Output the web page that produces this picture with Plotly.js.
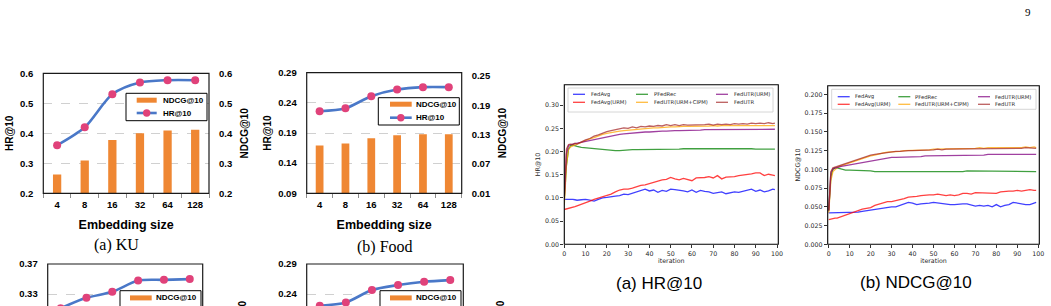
<!DOCTYPE html>
<html><head><meta charset="utf-8">
<script src="https://cdn.plot.ly/plotly-3.0.1.min.js"></script>
<style>html,body{margin:0;padding:0;background:#fff}#chart{width:1051px;height:306px}</style>
</head><body><div id="chart"></div>
<script>
// ---------- data ----------
const embeddingSizes = ['4','8','16','32','64','128'];
const kuHR = [0.360,0.420,0.530,0.569,0.577,0.577];
const kuNDCG = [0.263,0.309,0.378,0.400,0.409,0.412];
const foodHR = [0.226,0.231,0.251,0.262,0.266,0.266];
const foodNDCG = [0.108,0.112,0.123,0.129,0.131,0.131];
const cHR = [0.311,0.325,0.333,0.348,0.349,0.350];
const dHR = [0.2205,0.226,0.2467,0.255,0.2605,0.2633];

const methods = ['FedAvg','FedAvg(URM)','PFedRec','FedUTR(URM+CIPM)','FedUTR(URM)','FedUTR'];
const iterations = [0,1,2,3,4,5,6,8,10,12,14,16,18,20,22,24,26,28,30,32,34,36,38,40,42,44,46,48,50,52,54,56,58,60,62,64,66,68,70,72,74,76,78,80,82,84,86,88,90,92,94,96,98,99];

const hrFedAvg = [0.097,0.097,0.097,0.098,0.097,0.096,0.095,0.096,0.097,0.095,0.093,0.097,0.100,0.101,0.103,0.104,0.105,0.108,0.107,0.110,0.112,0.116,0.119,0.115,0.117,0.112,0.116,0.114,0.119,0.118,0.117,0.115,0.113,0.117,0.112,0.116,0.114,0.113,0.110,0.111,0.113,0.109,0.111,0.113,0.112,0.114,0.116,0.119,0.114,0.117,0.113,0.115,0.119,0.118];
const hrFedAvgURM = [0.075,0.076,0.077,0.079,0.080,0.081,0.083,0.086,0.090,0.093,0.097,0.100,0.103,0.106,0.108,0.113,0.117,0.119,0.119,0.121,0.124,0.127,0.128,0.131,0.133,0.137,0.139,0.140,0.144,0.141,0.139,0.142,0.140,0.137,0.143,0.143,0.144,0.146,0.143,0.148,0.141,0.145,0.145,0.146,0.148,0.149,0.151,0.152,0.154,0.154,0.148,0.151,0.149,0.148];
const hrPFedRec = [0.095,0.170,0.205,0.213,0.214,0.212,0.211,0.209,0.208,0.208,0.207,0.205,0.204,0.203,0.203,0.202,0.202,0.203,0.203,0.204,0.204,0.204,0.205,0.205,0.205,0.205,0.205,0.205,0.205,0.205,0.205,0.206,0.206,0.206,0.206,0.206,0.207,0.207,0.207,0.207,0.207,0.206,0.206,0.206,0.206,0.206,0.206,0.206,0.205,0.205,0.205,0.205,0.205,0.205];
const hrUTRCIPM = [0.085,0.170,0.205,0.210,0.212,0.214,0.216,0.220,0.224,0.227,0.230,0.234,0.237,0.239,0.241,0.243,0.244,0.245,0.246,0.247,0.248,0.249,0.249,0.250,0.251,0.251,0.252,0.253,0.253,0.253,0.254,0.254,0.254,0.254,0.255,0.255,0.255,0.255,0.256,0.255,0.256,0.256,0.256,0.256,0.256,0.256,0.256,0.256,0.257,0.256,0.257,0.256,0.257,0.256];
const hrUTRURM = [0.100,0.195,0.213,0.215,0.216,0.217,0.218,0.219,0.221,0.223,0.225,0.227,0.230,0.232,0.233,0.235,0.237,0.238,0.239,0.240,0.241,0.241,0.242,0.242,0.243,0.243,0.244,0.244,0.245,0.245,0.245,0.245,0.246,0.246,0.246,0.246,0.247,0.247,0.247,0.247,0.247,0.247,0.247,0.247,0.247,0.247,0.247,0.247,0.247,0.247,0.248,0.248,0.248,0.248];
const hrUTR = [0.100,0.205,0.215,0.216,0.215,0.218,0.216,0.221,0.225,0.228,0.233,0.236,0.240,0.243,0.245,0.247,0.249,0.251,0.250,0.253,0.251,0.254,0.253,0.255,0.254,0.256,0.255,0.258,0.256,0.258,0.256,0.258,0.257,0.257,0.258,0.257,0.258,0.259,0.257,0.259,0.258,0.259,0.258,0.260,0.259,0.260,0.259,0.261,0.260,0.261,0.260,0.262,0.260,0.261];

const ndFedAvg = [0.042,0.042,0.042,0.043,0.042,0.042,0.042,0.043,0.043,0.042,0.043,0.044,0.045,0.046,0.046,0.047,0.048,0.050,0.050,0.050,0.052,0.054,0.056,0.055,0.053,0.054,0.054,0.055,0.056,0.055,0.055,0.054,0.053,0.053,0.054,0.054,0.054,0.053,0.051,0.052,0.051,0.052,0.050,0.053,0.050,0.052,0.053,0.056,0.055,0.053,0.053,0.053,0.055,0.056];
const ndFedAvgURM = [0.033,0.034,0.034,0.035,0.035,0.036,0.037,0.039,0.042,0.044,0.045,0.047,0.048,0.049,0.052,0.054,0.056,0.057,0.057,0.058,0.060,0.061,0.063,0.063,0.064,0.065,0.066,0.066,0.066,0.067,0.066,0.065,0.066,0.065,0.066,0.068,0.068,0.067,0.069,0.069,0.068,0.068,0.069,0.068,0.070,0.071,0.071,0.071,0.072,0.071,0.072,0.073,0.072,0.072];
const ndPFedRec = [0.045,0.090,0.100,0.102,0.102,0.101,0.100,0.099,0.099,0.099,0.098,0.098,0.098,0.098,0.097,0.097,0.097,0.096,0.097,0.097,0.097,0.097,0.097,0.097,0.097,0.096,0.097,0.097,0.097,0.097,0.097,0.097,0.097,0.097,0.097,0.097,0.098,0.098,0.098,0.098,0.098,0.098,0.098,0.097,0.097,0.097,0.097,0.097,0.097,0.097,0.097,0.097,0.097,0.097];
const ndUTRCIPM = [0.042,0.085,0.097,0.100,0.102,0.104,0.105,0.106,0.108,0.110,0.112,0.114,0.116,0.118,0.119,0.121,0.122,0.123,0.123,0.124,0.124,0.125,0.125,0.125,0.125,0.126,0.126,0.126,0.127,0.127,0.127,0.128,0.128,0.128,0.128,0.128,0.128,0.128,0.128,0.129,0.128,0.129,0.129,0.128,0.129,0.129,0.129,0.129,0.129,0.129,0.130,0.129,0.130,0.129];
const ndUTRURM = [0.045,0.095,0.101,0.102,0.103,0.103,0.104,0.105,0.106,0.107,0.109,0.110,0.111,0.112,0.113,0.114,0.115,0.115,0.116,0.116,0.116,0.117,0.117,0.117,0.117,0.117,0.118,0.118,0.118,0.118,0.118,0.118,0.119,0.119,0.119,0.119,0.119,0.119,0.119,0.119,0.119,0.120,0.120,0.120,0.120,0.120,0.120,0.120,0.120,0.120,0.120,0.120,0.120,0.120];
const ndUTR = [0.045,0.097,0.102,0.103,0.103,0.104,0.105,0.107,0.109,0.111,0.113,0.115,0.117,0.119,0.120,0.121,0.122,0.123,0.124,0.124,0.124,0.125,0.125,0.125,0.125,0.126,0.126,0.126,0.126,0.127,0.126,0.127,0.127,0.127,0.127,0.127,0.127,0.127,0.127,0.128,0.127,0.128,0.128,0.128,0.128,0.128,0.128,0.128,0.128,0.128,0.129,0.129,0.128,0.128];

// ---------- helpers ----------
const W = 1051, H = 306;
const fx = p => p / W;
const fy = p => 1 - p / H;
const methodColors = ['rgba(0,0,255,0.75)','rgba(255,0,0,0.75)','rgba(0,128,0,0.75)','rgba(255,165,0,0.75)','rgba(128,0,128,0.75)','rgba(165,42,42,0.75)'];
const barColor = '#ef8733', lineColor = '#4a78c8', markerColor = '#e0427a';
const bold = (s) => ({family:'Liberation Sans, Arial, sans-serif', size:s, color:'#000', weight:'bold'});
const mpl = (s) => ({family:'DejaVu Sans, sans-serif', size:s, color:'#262626'});

const traces = [];
const shapes = [];
const annotations = [];

function frame(l, t, r, b, color, w, noBottom) {
  const p = noBottom
    ? `M ${fx(l)},${fy(b)} L ${fx(l)},${fy(t)} L ${fx(r)},${fy(t)} L ${fx(r)},${fy(b)}`
    : `M ${fx(l)},${fy(b)} L ${fx(l)},${fy(t)} L ${fx(r)},${fy(t)} L ${fx(r)},${fy(b)} Z`;
  shapes.push({type:'path', xref:'paper', yref:'paper', path:p, line:{color:color, width:w}, layer:'above'});
}
function rectPx(l, t, r, b, fill, lc, lw) {
  shapes.push({type:'rect', xref:'paper', yref:'paper', x0:fx(l), x1:fx(r), y0:fy(b), y1:fy(t), fillcolor:fill, line:{color:lc, width:lw}, layer:'above'});
}
function linePx(x0, y0, x1, y1, color, w) {
  shapes.push({type:'line', xref:'paper', yref:'paper', x0:fx(x0), x1:fx(x1), y0:fy(y0), y1:fy(y1), line:{color:color, width:w}, layer:'above'});
}
function circlePx(cx, cy, r, color) {
  shapes.push({type:'circle', xref:'paper', yref:'paper', x0:fx(cx-r), x1:fx(cx+r), y0:fy(cy+r), y1:fy(cy-r), fillcolor:color, line:{width:0}, layer:'above'});
}
function textPx(txt, x, y, font, xanchor, angle) {
  annotations.push({text:txt, xref:'paper', yref:'paper', x:fx(x), y:fy(y), xanchor:xanchor||'left', yanchor:'middle', showarrow:false, font:font, textangle:angle||0});
}

const layout = {
  width: W, height: H, autosize:false,
  margin:{l:0,r:0,t:0,b:0}, paper_bgcolor:'#fff', plot_bgcolor:'rgba(0,0,0,0)',
  showlegend:false, shapes:shapes, annotations:annotations
};

// ---------- Excel style dual-axis charts ----------
function excelChart(k, box, hr, nd, leftR, leftTick, leftD, rightR, rightTick, rightD, showX, fmt) {
  const xa = 'x' + (k===1?'':k), ya = 'y' + (2*k-1===1?'':(2*k-1)), yb = 'y' + (2*k);
  const xk = 'xaxis' + (k===1?'':k), yak = 'yaxis' + (2*k-1===1?'':(2*k-1)), ybk = 'yaxis' + (2*k);
  layout[xk] = {domain:[fx(box.l), fx(box.r)], anchor:ya, type:'category', categoryorder:'array', categoryarray:embeddingSizes,
    range:[-0.5,5.5], showgrid:false, zeroline:false, fixedrange:true,
    showline:showX, linecolor:'#8c8c8c', linewidth:1, ticks:showX?'outside':'', tickson:'boundaries', ticklen:4, tickcolor:'#8c8c8c',
    showticklabels:showX, tickfont:bold(9.5), ticklabelstandoff:2,
    title:showX?{text:'Embedding size', font:bold(12.5), standoff:11}:{text:''}};
  layout[yak] = {domain:[fy(box.b), fy(box.t)], anchor:xa, range:leftR, tick0:leftTick, dtick:leftD, tickformat:fmt[0],
    showgrid:true, gridcolor:'#d0d0d0', griddash:'dash', gridwidth:1, zeroline:false, showline:false, ticks:'',
    tickfont:bold(9.5), ticklabelstandoff:9, title:showX?{text:'HR@10', font:bold(10), standoff:4}:{text:''}};
  layout[ybk] = {overlaying:ya, side:'right', anchor:xa, range:rightR, tick0:rightTick, dtick:rightD, tickformat:fmt[1],
    showgrid:false, zeroline:false, showline:false, ticks:'', tickfont:bold(9.5), ticklabelstandoff:9,
    title:showX?{text:'NDCG@10', font:bold(10), standoff:9}:{text:''}};
  if (nd) traces.push({type:'bar', x:embeddingSizes, y:nd, xaxis:xa, yaxis:yb, width:0.3, marker:{color:barColor}, name:'NDCG@10'});
  traces.push({type:'scatter', mode:'lines+markers', x:embeddingSizes, y:hr, xaxis:xa, yaxis:ya, name:'HR@10',
    line:{color:lineColor, width:2.6, shape:'spline', smoothing:0.8}, marker:{color:markerColor, size:8}, cliponaxis:true});
  frame(box.l, box.t, box.r, box.b, '#1a1a1a', 1.2, !showX);
}

excelChart(1, {l:43.3, t:73.3, r:209, b:193.3}, kuHR, kuNDCG, [0.2,0.6], 0.2, 0.1, [0.2,0.6], 0.2, 0.1, true, ['.1f','.1f']);
excelChart(2, {l:306.7, t:72.7, r:461.7, b:193.3}, foodHR, foodNDCG, [0.09,0.29], 0.09, 0.05, [0.01,0.257], 0.01, 0.06, true, ['.2f','.2f']);
excelChart(3, {l:47.7, t:264, r:202.7, b:306}, cHR, null, [0.314,0.3702], 0.33, 0.04, [0.226,0.3102], 0.25, 0.06, false, ['.2f','.2f']);
excelChart(4, {l:306.7, t:264, r:463.3, b:306}, dHR, null, [0.22,0.2902], 0.24, 0.05, [0.17,0.2608], 0.19, 0.06, false, ['.2f','.2f']);

// partially visible right titles of the lower charts (cut by the page edge, as in the reference)
textPx('NDCG@10', 242.3, 326, bold(10), 'center', -90);
textPx('NDCG@10', 500, 326, bold(10), 'center', -90);

// Excel legends
function excelLegend(l, t, r, b, swX0, swX1, sw1Y, row2Y, txtX) {
  rectPx(l, t, r, b, '#fff', '#000', 1);
  rectPx(swX0, sw1Y-2.5, swX1, sw1Y+2.5, barColor, barColor, 0);
  textPx('NDCG@10', txtX, sw1Y, bold(8));
  if (row2Y < H) {
    linePx(swX0, row2Y, swX1, row2Y, lineColor, 2.6);
    circlePx((swX0+swX1)/2, row2Y, 3.7, markerColor);
    textPx('HR@10', txtX, row2Y, bold(8));
  }
}
excelLegend(126, 93.3, 207, 120.7, 136.7, 156.7, 100.2, 113, 160.5);
excelLegend(378.3, 97.7, 459.3, 125, 390, 411.7, 104.2, 117.7, 413.5);
excelLegend(120, 290.7, 201, 330, 130, 151.7, 297.9, 311, 153.5);
excelLegend(380, 290.7, 461, 330, 390, 411.7, 297.9, 311, 413.5);

// ---------- matplotlib style line charts ----------
function mplChart(xk, yk, xa, ya, box, xr, yr, ytv, yfmt, ytitle, series) {
  layout[xk] = {domain:[fx(box.l), fx(box.r)], anchor:ya, range:xr, tickvals:[0,10,20,30,40,50,60,70,80,90,100],
    ticks:'outside', ticklen:3, tickwidth:0.8, tickcolor:'#000', showline:false, showgrid:false, zeroline:false,
    tickfont:mpl(6.3), title:{text:'iteration', font:mpl(6.3), standoff:1}, fixedrange:true};
  layout[yk] = {domain:[fy(box.b), fy(box.t)], anchor:xa, range:yr, tickvals:ytv, tickformat:yfmt,
    ticks:'outside', ticklen:3, tickwidth:0.8, tickcolor:'#000', showline:false, showgrid:false, zeroline:false,
    tickfont:mpl(6.3), title:{text:ytitle, font:mpl(6.3), standoff:3}, fixedrange:true};
  series.forEach((s, i) => traces.push({type:'scatter', mode:'lines', x:iterations, y:s, xaxis:xa, yaxis:ya,
    name:methods[i], line:{color:methodColors[i], width:1.3}}));
  frame(box.l, box.t, box.r, box.b, '#000', 1.1, false);
}
mplChart('xaxis5','yaxis9','x5','y9', {l:564.3, t:84.7, r:778.3, b:244.3}, [0,100.6], [0,0.344],
  [0,0.05,0.10,0.15,0.20,0.25,0.30], '.2f', 'HR@10', [hrFedAvg,hrFedAvgURM,hrPFedRec,hrUTRCIPM,hrUTRURM,hrUTR]);
mplChart('xaxis6','yaxis10','x6','y10', {l:827.7, t:85.7, r:1039.3, b:244.3}, [-0.5,100.5], [0,0.2116],
  [0,0.025,0.05,0.075,0.1,0.125,0.15,0.175,0.2], '.3f', 'NDCG@10', [ndFedAvg,ndFedAvgURM,ndPFedRec,ndUTRCIPM,ndUTRURM,ndUTR]);

// matplotlib legends (3 columns x 2 rows, column-major)
function mplLegend(box, lineX, txtX, rows) {
  rectPx(box.l, box.t, box.r, box.b, 'rgba(255,255,255,0.85)', '#cccccc', 0.8);
  methods.forEach((m, i) => {
    const c = Math.floor(i/2), r = i % 2;
    linePx(lineX[c], rows[r], lineX[c]+12, rows[r], methodColors[i], 1.3);
    textPx(m, txtX[c], rows[r], mpl(5.3));
  });
}
mplLegend({l:568, t:88, r:773, b:112}, [573,636,716], [588.5,651.5,731.5], [94.3,102.3]);
mplLegend({l:831.7, t:89.3, r:1036, b:109.3}, [837.7,898.3,978], [852.8,912.8,992.5], [96.7,104.3]);

// ---------- captions ----------
textPx('(a) KU', 116, 245, {family:'Liberation Serif, serif', size:16, color:'#000'}, 'center');
textPx('(b) Food', 385, 246.5, {family:'Liberation Serif, serif', size:16, color:'#000'}, 'center');
textPx('(a) HR@10', 659, 283, {family:'Liberation Sans, Arial, sans-serif', size:17, color:'#000'}, 'center');
textPx('(b) NDCG@10', 915.8, 282, {family:'Liberation Sans, Arial, sans-serif', size:17, color:'#000'}, 'center');
textPx('9', 1028, 12, {family:'Liberation Serif, serif', size:11, color:'#000'}, 'center');

Plotly.newPlot('chart', traces, layout, {staticPlot:true, displayModeBar:false});
</script>
</body></html>
